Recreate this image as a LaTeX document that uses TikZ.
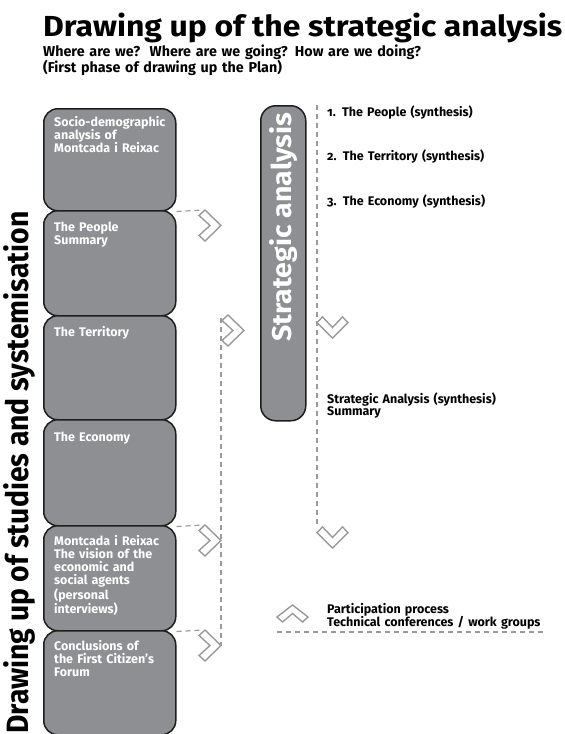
\documentclass[tikz,border=0pt]{standalone}
\usepackage{fontspec}
\setmainfont{Fira Sans}
\newfontfamily\onumfont[Numbers=OldStyle]{Fira Sans}
\usepackage{graphicx}
\definecolor{boxgray}{HTML}{8E8F92}
\definecolor{boxline}{HTML}{1E1E1E}
\definecolor{flowgray}{HTML}{9A9A9A}
\begin{document}
\begin{tikzpicture}[x=1pt,y=-1pt,
  stage/.style={draw=boxline, fill=boxgray, line width=1.5pt, rounded corners=14pt, inner sep=0pt, anchor=north west},
  boxtxt/.style={text=white, font=\fontsize{12.5}{13.3}\selectfont\bfseries, anchor=base west, inner sep=0pt, text width=125pt, align=left},
  lbl/.style={text=black, font=\onumfont\fontsize{12.5}{12.4}\selectfont\bfseries, anchor=base west, inner sep=0pt, text width=235pt, align=left},
  flow/.style={draw=flowgray, line width=1.2pt, dash pattern=on 5pt off 4pt},
  chev/.style={draw=flowgray, line width=1.4pt, line join=miter},
  chevR/.pic={\path[chev] (8,0) -- (24,15.5) -- (8,31) -- (2,25.5) -- (13,15.5) -- (2,5.5) -- cycle;},
  chevD/.pic={\path[chev] (0,7.7) -- (15.5,23) -- (31,7.7) -- (25.5,1.9) -- (15.5,12.5) -- (5.5,1.9) -- cycle;},
  chevU/.pic={\path[chev] (0,12) -- (15.5,0) -- (31,12) -- (25.5,17) -- (15.5,8.5) -- (5.5,17) -- cycle;},
]
\fill[white] (0,0) rectangle (565,734);
\useasboundingbox (0,0) rectangle (565,734);

% title
\node[anchor=base west, inner sep=0pt] (title) at (43,36)
  {\resizebox{519pt}{23.5pt}{\bfseries Drawing up of the strategic analysis}};
\node[anchor=base west, inner sep=0pt, text width=440pt, align=left,
      font=\fontsize{14.3}{14}\selectfont\bfseries] (sub) at (43,56)
  {Where are we?\ \ Where are we going? How are we doing?\\(First phase of drawing up the Plan)};

% side label
\node[rotate=90, anchor=base west, inner sep=0pt] (side) at (28,734)
  {\resizebox{522pt}{25pt}{\bfseries Drawing up of studies and systemisation}};

% dashed flows
\coordinate (k1) at (203,210);
\coordinate (k5) at (203,525);
\coordinate (k6) at (203,630);
\coordinate (vtop) at (221,318);
\coordinate (vbot) at (221,646);
\coordinate (rtop) at (317,105);
\coordinate (rbot) at (317,525);
\coordinate (hl) at (277,632);
\coordinate (hr) at (545,632);

% stage boxes
\node[stage, minimum width=132pt, minimum height=102pt] (b1) at (43,108) {};
\node[stage, minimum width=132pt, minimum height=105pt] (b2) at (43,210) {};
\node[stage, minimum width=132pt, minimum height=104pt] (b3) at (43,315) {};
\node[stage, minimum width=132pt, minimum height=106pt] (b4) at (43,419) {};
\node[stage, minimum width=132pt, minimum height=105pt] (b5) at (43,525) {};
\node[stage, minimum width=132pt, minimum height=104pt] (b6) at (43,630) {};

\draw[flow] (b1.south east) -- (k1);
\draw[flow] (b4.south east) -- (k5);
\draw[flow] (b5.south east) -- (k6);
\draw[flow] (vtop) -- (vbot);
\draw[flow] (rtop) -- (rbot);
\draw[flow] (hl) -- (hr);

\node[boxtxt] (t1) at (54,126) {Socio-demographic\\analysis of\\Montcada i Reixac};
\node[boxtxt] (t2) at (54,231) {The People\\Summary};
\node[boxtxt] (t3) at (54,336) {The Territory};
\node[boxtxt] (t4) at (54,441) {The Economy};
\node[boxtxt] (t5) at (54,545) {Montcada i Reixac\\The vision of the\\economic and\\social agents\\(personal\\interviews)};
\node[boxtxt] (t6) at (54,650) {Conclusions of\\the First Citizen’s\\Forum};

% strategic analysis box
\node[stage, rounded corners=15pt, minimum width=45pt, minimum height=315pt] (sa) at (260,105) {};
\node[rotate=90, anchor=base west, inner sep=0pt, text=white] (satxt) at (291,342)
  {\resizebox{229pt}{22pt}{\bfseries Strategic analysis}};

% chevrons
\pic (c1) at (197,210) {chevR};
\pic (c2) at (220,315) {chevR};
\pic (c5) at (197,525) {chevR};
\pic (c6) at (197,630) {chevR};
\pic (d1) at (317,315) {chevD};
\pic (d2) at (317,525) {chevD};
\pic (u1) at (277,605) {chevU};

% right labels
\node[lbl] (l1) at (327,116) {1. The People (synthesis)};
\node[lbl] (l2) at (327,160) {2. The Territory (synthesis)};
\node[lbl] (l3) at (327,205) {3. The Economy (synthesis)};
\node[lbl] (l4) at (327,403) {Strategic Analysis (synthesis)\\Summary};
\node[lbl] (l5) at (327,613) {Participation process\\Technical conferences / work groups};
\end{tikzpicture}
\end{document}
